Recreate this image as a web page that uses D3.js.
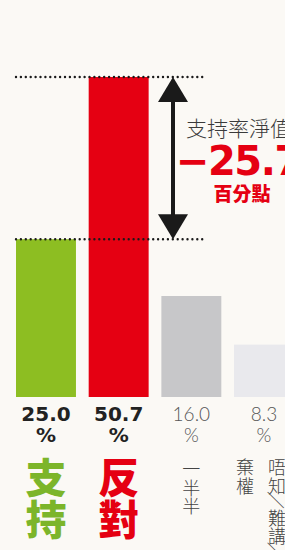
<!DOCTYPE html>
<html>
<head>
	<meta charset="utf-8">
	<script src="https://cdnjs.cloudflare.com/ajax/libs/d3/7.8.5/d3.min.js"></script>
	<style>
		html, body { margin: 0; padding: 0; background: #fbf9f5; overflow: hidden; }
		svg { display: block; font-family: "Noto Sans CJK TC", sans-serif; }
	</style>
</head>
<body>
	<svg id="main" width="285" height="550"></svg>

	<script>
		// poll results (%)
		var categories = ["支持", "反對", "一半半", "棄權"];
		var values = [25.0, 50.7, 16.0, 8.3];
		// vertical labels under each bar, one or two columns
		var labelColumns = [["支持"], ["反對"], ["一半半"], ["棄權", "唔知／難講／"]];
		var netTitle = "支持率淨值";
		var netUnit = "百分點";

		var BAR_BOTTOM = 397;
		var svg = d3.select("#main");

		var x = d3.scaleBand()
			.domain(categories)
			.range([16, 294])
			.paddingInner(0.175)
			.paddingOuter(0);

		var y = d3.scaleLinear()
			.domain([0, d3.max(values)])
			.range([BAR_BOTTOM, 77]);

		var barColors = ["#8dbe22", "#e50012", "#c7c7c9", "#e9e9ed"];

		svg.selectAll("rect.bar")
			.data(values)
			.enter().append("rect")
			.attr("class", "bar")
			.attr("x", function(d, i) { return x(categories[i]); })
			.attr("y", function(d) { return y(d); })
			.attr("width", x.bandwidth())
			.attr("height", function(d) { return BAR_BOTTOM - y(d); })
			.attr("fill", function(d, i) { return barColors[i]; });

		// dotted guide lines at support and oppose levels
		var guides = [values[1], values[0]];
		svg.selectAll("line.guide")
			.data(guides)
			.enter().append("line")
			.attr("class", "guide")
			.attr("x1", 16).attr("x2", 203)
			.attr("y1", function(d) { return y(d); })
			.attr("y2", function(d) { return y(d); })
			.attr("stroke", "#1a1a1a")
			.attr("stroke-width", 2.4)
			.attr("stroke-linecap", "round")
			.attr("stroke-dasharray", "0 4.9");

		// double arrow
		var ax = 173;
		var yTop = y(values[1]), yBot = y(values[0]);
		svg.append("line")
			.attr("x1", ax).attr("x2", ax)
			.attr("y1", yTop + 20).attr("y2", yBot - 20)
			.attr("stroke", "#1a1a1a")
			.attr("stroke-width", 4);
		svg.append("path")
			.attr("d", d3.line()([[ax, yTop], [ax + 15, yTop + 25], [ax - 15, yTop + 25]]) + "Z")
			.attr("fill", "#1a1a1a");
		svg.append("path")
			.attr("d", d3.line()([[ax, yBot], [ax + 15, yBot - 25], [ax - 15, yBot - 25]]) + "Z")
			.attr("fill", "#1a1a1a");

		// net value annotation
		var net = values[0] - values[1];
		svg.append("text")
			.attr("x", 186).attr("y", 136)
			.style("font-size", "21px")
			.style("font-weight", 300)
			.attr("fill", "#3a3a3a")
			.text(netTitle);
		svg.append("text")
			.attr("x", 176).attr("y", 175)
			.style("font-family", "'DejaVu Sans'")
			.style("font-size", "40px")
			.style("font-weight", "bold")
			.style("letter-spacing", "-1.5px")
			.attr("fill", "#e50012")
			.text(d3.format(".1f")(net).replace("-", "–"));
		svg.append("text")
			.attr("x", 242).attr("y", 201)
			.attr("text-anchor", "middle")
			.style("font-size", "19px")
			.style("font-weight", 900)
			.attr("fill", "#e50012")
			.text(netUnit);

		// percentage labels
		var fmt = d3.format(".1f");
		var valueLabels = svg.selectAll("g.val")
			.data(values)
			.enter().append("g")
			.attr("class", "val")
			.attr("transform", function(d, i) {
				return "translate(" + (x(categories[i]) + x.bandwidth() / 2) + ",0)";
			});
		[[421, function(d) { return fmt(d); }], [442, function() { return "%"; }]].forEach(function(row) {
			valueLabels.append("text")
				.attr("y", row[0])
				.attr("text-anchor", "middle")
				.style("font-family", function(d, i) { return i < 2 ? "'DejaVu Sans'" : "Lato"; })
				.style("font-weight", function(d, i) { return i < 2 ? "bold" : 300; })
				.style("font-size", function(d, i) { return i < 2 ? "20px" : "19px"; })
				.attr("fill", function(d, i) { return i < 2 ? "#222" : "#555"; })
				.text(row[1]);
		});

		// vertical category labels
		var labelStyle = [
			{ size: 41, step: 42, top: 475, weight: 900, color: "#7cb52a", xs: [0] },
			{ size: 41, step: 42, top: 475, weight: 900, color: "#e50012", xs: [0] },
			{ size: 18, step: 18.5, top: 468, weight: 300, color: "#444", xs: [0] },
			{ size: 18, step: 18.5, top: 466, weight: 300, color: "#444", xs: [-19, 13] }
		];

		labelColumns.forEach(function(cols, i) {
			var cx = x(categories[i]) + x.bandwidth() / 2;
			var s = labelStyle[i];
			cols.forEach(function(str, c) {
				var chars = Array.from(str);
				var yy = s.top;
				chars.forEach(function(ch) {
					var isSlash = ch === "／";
					var cy = isSlash ? yy - 3 : yy;
					var t = svg.append("text")
						.attr("x", cx + s.xs[c])
						.attr("y", cy)
						.attr("text-anchor", "middle")
						.attr("dominant-baseline", "central")
						.style("font-size", s.size + "px")
						.style("font-weight", s.weight)
						.attr("fill", s.color)
						.text(ch);
					if (isSlash) {
						t.attr("transform", "rotate(90," + (cx + s.xs[c]) + "," + cy + ")");
					}
					yy += isSlash ? s.step * 0.75 : s.step;
				});
			});
		});
	</script>
</body>
</html>
